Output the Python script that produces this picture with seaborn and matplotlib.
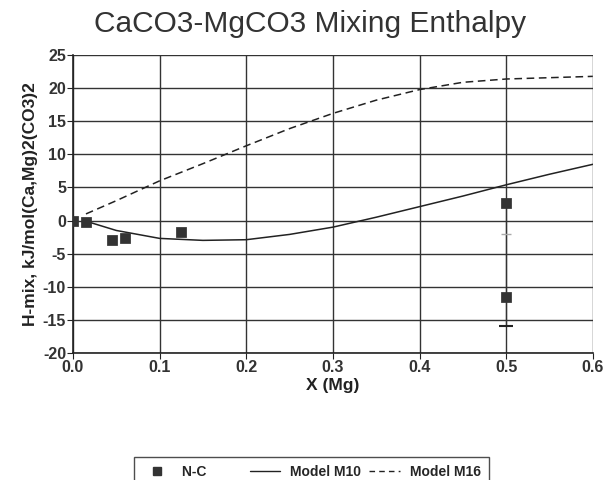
import matplotlib
matplotlib.use("Agg")
import matplotlib.pyplot as plt
import seaborn as sns
import pandas as pd

sns.set_style("white")
plt.rcParams['font.family'] = ['Liberation Sans', 'DejaVu Sans']
plt.rcParams['axes.unicode_minus'] = False

# measured points (N-C)
nc_x = [0.0, 0.015, 0.045, 0.06, 0.125, 0.5, 0.5]
nc_y = [0.0, -0.2, -3.0, -2.6, -1.8, 2.7, -11.5]

# error range at X=0.5
err_x = 0.5
err_lo, err_mid, err_hi = -16.0, -2.0, 2.7

# model curves
m_x = [0.015, 0.05, 0.1, 0.15, 0.2, 0.25, 0.3, 0.35, 0.4, 0.45, 0.5, 0.55, 0.6]
m10_y = [-0.1, -1.5, -2.7, -3.0, -2.9, -2.1, -1.0, 0.5, 2.1, 3.7, 5.4, 7.0, 8.5]
m16_y = [1.0, 3.0, 6.0, 8.6, 11.3, 13.9, 16.2, 18.2, 19.8, 20.9, 21.4, 21.6, 21.8]

nc = pd.DataFrame({'x': nc_x, 'y': nc_y})
models = pd.DataFrame({'x': m_x * 2, 'y': m10_y + m16_y,
                       'model': ['Model M10'] * len(m_x) + ['Model M16'] * len(m_x)})

fig, ax = plt.subplots(figsize=(6.08, 4.8), dpi=100)
fig.subplots_adjust(left=0.12, right=0.975, top=0.885, bottom=0.265)

sns.lineplot(data=models, x='x', y='y', style='model', color='#222222',
             linewidth=1.1, dashes={'Model M10': '', 'Model M16': (5, 3)},
             ax=ax, legend=False)
ax.plot([err_x, err_x], [err_lo, err_hi], color='#333333', lw=0.9)
ax.plot([err_x], [err_lo], marker='_', ms=10, mew=1.5, color='#222222')
ax.plot([err_x], [err_mid], marker='_', ms=7, mew=1.0, color='#aaaaaa')
sns.scatterplot(data=nc, x='x', y='y', marker='s', s=45, color='#333333',
                edgecolor='#333333', ax=ax, zorder=5, legend=False)

ax.set_xlim(0, 0.6)
ax.set_ylim(-20, 25)
ax.set_xticks([0, 0.1, 0.2, 0.3, 0.4, 0.5, 0.6])
ax.set_xticklabels(['0.0', '0.1', '0.2', '0.3', '0.4', '0.5', '0.6'])
ax.set_yticks(range(-20, 26, 5))
ax.grid(True, color='#333333', lw=1.0)
for s in ['top', 'right']:
    ax.spines[s].set_visible(False)
for s in ['left', 'bottom']:
    ax.spines[s].set_color('#222222')
    ax.spines[s].set_linewidth(1.2)
ax.tick_params(axis='both', length=4, color='#222222', direction='out',
               labelsize=11.5, pad=1)
ax.tick_params(axis='both', which='both', left=True, bottom=True)
for lab in ax.get_xticklabels() + ax.get_yticklabels():
    lab.set_fontweight('bold')
    lab.set_color('#333333')
ax.set_xlabel('X (Mg)', fontsize=12.5, fontweight='bold', color='#222222', labelpad=2)
ax.set_ylabel('H-mix, kJ/mol(Ca,Mg)2(CO3)2', fontsize=12.5, fontweight='bold',
              color='#222222', labelpad=3)
fig.suptitle('CaCO3-MgCO3 Mixing Enthalpy', fontsize=21.5, color='#333333',
             x=0.51, y=0.98)

h1 = plt.Line2D([], [], marker='s', ls='', color='#333333', ms=6)
h2 = plt.Line2D([], [], color='#222222', lw=1.0)
h3 = plt.Line2D([], [], color='#222222', lw=1.0, dashes=(4, 3))
leg = fig.legend([h1, h2, h3], ['N-C         ', 'Model M10', 'Model M16'], ncol=3,
                 loc='lower center', bbox_to_anchor=(0.512, -0.03),
                 frameon=True, fancybox=False, edgecolor='#222222',
                 prop={'weight': 'bold', 'size': 10}, handlelength=2.2,
                 handletextpad=0.7, columnspacing=0.6, borderpad=0.6)
leg.get_frame().set_linewidth(1.0)

fig.savefig('out.png', dpi=100)
